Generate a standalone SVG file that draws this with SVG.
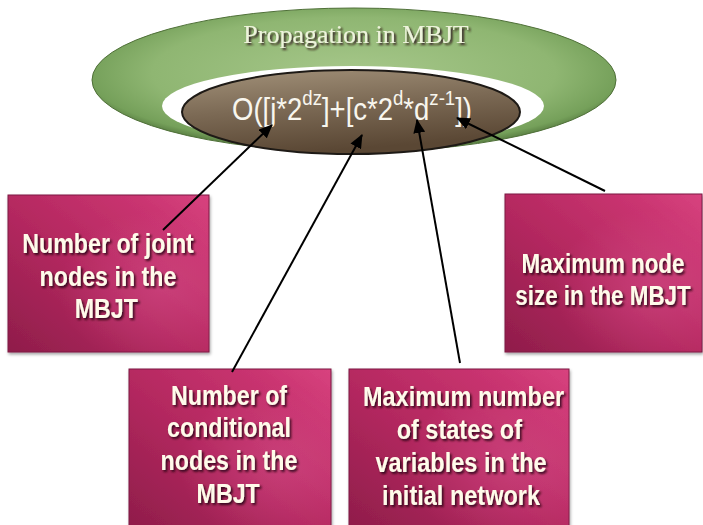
<svg xmlns="http://www.w3.org/2000/svg" width="703" height="525" viewBox="0 0 703 525">
  <defs>
    <radialGradient id="greenGrad" cx="0.5" cy="0.45" r="0.55">
      <stop offset="0" stop-color="#a6c78a"/>
      <stop offset="0.7" stop-color="#8fb672"/>
      <stop offset="0.92" stop-color="#75a05a"/>
      <stop offset="1" stop-color="#55793f"/>
    </radialGradient>
    <linearGradient id="brownGrad" x1="0" y1="0" x2="0.3" y2="1">
      <stop offset="0" stop-color="#a3927a"/>
      <stop offset="0.5" stop-color="#7c6a55"/>
      <stop offset="1" stop-color="#5a4734"/>
    </linearGradient>
    <linearGradient id="boxGrad" x1="0" y1="1" x2="1" y2="0">
      <stop offset="0" stop-color="#8f1d4a"/>
      <stop offset="0.45" stop-color="#b3285f"/>
      <stop offset="0.8" stop-color="#c93470"/>
      <stop offset="1" stop-color="#d8437f"/>
    </linearGradient>
    <radialGradient id="boxSheen" cx="0.75" cy="0.6" r="0.5">
      <stop offset="0" stop-color="#e0609a" stop-opacity="0.35"/>
      <stop offset="1" stop-color="#e0609a" stop-opacity="0"/>
    </radialGradient>
    <filter id="txtShadow" x="-5%" y="-10%" width="110%" height="125%">
      <feDropShadow dx="2" dy="2" stdDeviation="1" flood-color="#1a0008" flood-opacity="0.85"/>
    </filter>
    <filter id="boxShadow" x="-5%" y="-5%" width="115%" height="115%">
      <feDropShadow dx="1" dy="2" stdDeviation="1.5" flood-color="#000" flood-opacity="0.35"/>
    </filter>
    <marker id="arrow" markerUnits="userSpaceOnUse" markerWidth="14" markerHeight="12" refX="13" refY="6" orient="auto">
      <path d="M0,0 L14,6 L0,12 Z" fill="#000"/>
    </marker>
    <style>
      .box { fill: url(#boxGrad); stroke: #7c1a42; stroke-width: 1; filter: url(#boxShadow); }
      .sheen { fill: url(#boxSheen); }
      .lbl { font-family: "Liberation Sans", Arial, sans-serif; font-weight: bold; font-size: 28px; fill: #fffbea; text-anchor: middle; filter: url(#txtShadow); }
      .conn { stroke: #000; stroke-width: 2; fill: none; marker-end: url(#arrow); }
    </style>
  </defs>

  <rect width="703" height="525" fill="#ffffff"/>

  <g id="ring">
    <ellipse cx="354" cy="80" rx="262" ry="72" fill="url(#greenGrad)" stroke="#4f7038" stroke-width="1"/>
    <ellipse cx="353" cy="106" rx="191" ry="40" fill="#ffffff"/>
    <text x="356" y="43" font-family="'Liberation Serif', 'Times New Roman', serif" font-size="26" fill="#eef3dc" text-anchor="middle" style="filter:url(#txtShadow)">Propagation in MBJT</text>
  </g>

  <g id="formula">
    <ellipse cx="351" cy="112" rx="169" ry="42" fill="url(#brownGrad)" stroke="#1e1a16" stroke-width="2"/>
    <text transform="translate(232,120) scale(0.887,1)" x="0" y="0" font-family="'Liberation Sans', Arial, sans-serif" font-size="31" fill="#f8f6ee">O([j*2<tspan font-size="21" dy="-15">dz</tspan><tspan dy="15">]+[c*2</tspan><tspan font-size="21" dy="-15">d</tspan><tspan dy="15">*d</tspan><tspan font-size="21" dy="-15">z-1</tspan><tspan dy="15">])</tspan></text>
  </g>

  <g id="box-joint">
    <rect class="box" x="8" y="195" width="201" height="157"/>
    <rect class="sheen" x="8" y="195" width="201" height="157"/>
    <text class="lbl" transform="translate(108,0) scale(0.83,1)"><tspan x="0" y="253">Number of joint</tspan><tspan x="0" y="286">nodes in the</tspan><tspan x="-2" y="318">MBJT</tspan></text>
  </g>

  <g id="box-conditional">
    <rect class="box" x="129" y="369" width="202" height="160"/>
    <rect class="sheen" x="129" y="369" width="202" height="160"/>
    <text class="lbl" transform="translate(229,0) scale(0.83,1)"><tspan x="0" y="405">Number of</tspan><tspan x="0" y="437">conditional</tspan><tspan x="0" y="470">nodes in the</tspan><tspan x="-1" y="503">MBJT</tspan></text>
  </g>

  <g id="box-states">
    <rect class="box" x="349" y="369" width="220" height="160"/>
    <rect class="sheen" x="349" y="369" width="220" height="160"/>
    <text class="lbl" transform="translate(461,0) scale(0.84,1)"><tspan x="3" y="406">Maximum number</tspan><tspan x="-2" y="439">of states of</tspan><tspan x="0" y="472">variables in the</tspan><tspan x="0" y="505">initial network</tspan></text>
  </g>

  <g id="box-size">
    <rect class="box" x="505" y="194" width="197" height="158"/>
    <rect class="sheen" x="505" y="194" width="197" height="158"/>
    <text class="lbl" transform="translate(603,0) scale(0.8,1)"><tspan x="0" y="273">Maximum node</tspan><tspan x="0" y="305">size in the MBJT</tspan></text>
  </g>

  <g id="connectors">
    <path class="conn" d="M163,230 L272,125"/>
    <path class="conn" d="M232,372 L362,135"/>
    <path class="conn" d="M460,363 L417,120"/>
    <path class="conn" d="M605,191 L457,118"/>
  </g>
</svg>
